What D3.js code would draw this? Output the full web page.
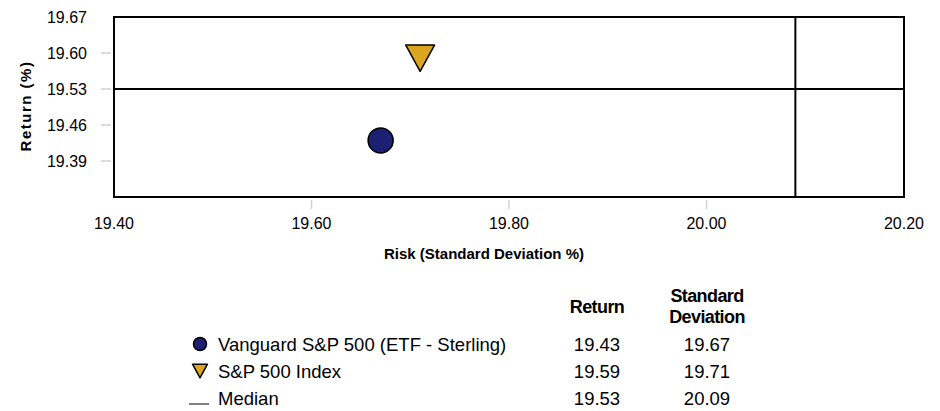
<!DOCTYPE html>
<html>
<head>
<meta charset="utf-8">
<script src="https://cdn.jsdelivr.net/npm/d3@7"></script>
<style>
  body { margin: 0; background: #fff; }
  text { font-family: "Liberation Sans", Arial, sans-serif; fill: #000; }
  .tick-label { font-size: 16px; }
  .axis-title { font-size: 15px; font-weight: bold; }
  .legend-text { font-size: 18.5px; }
  .head { font-size: 18px; font-weight: bold; letter-spacing: -0.6px; }
</style>
</head>
<body>
<div id="chart"></div>
<script>
// Chart data
const seriesNames = ["Vanguard S&P 500 (ETF - Sterling)", "S&P 500 Index"];
const seriesReturn = [19.43, 19.59];
const seriesRisk = [19.67, 19.71];
const seriesColors = ["#1d1f73", "#dba520"];
const seriesShapes = ["circle", "triangle"];

const medianReturn = 19.53;
const medianRisk = 20.09;

const xTicks = [19.40, 19.60, 19.80, 20.00, 20.20];
const yTicks = [19.39, 19.46, 19.53, 19.60, 19.67];

const width = 940;
const height = 411;

// plot box
const plotL = 114, plotR = 904, plotT = 17, plotB = 197;

const x = d3.scaleLinear().domain([19.40, 20.20]).range([plotL, plotR]);
const y = d3.scaleLinear().domain([19.32, 19.67]).range([plotB, plotT]);

const svg = d3.select("#chart").append("svg")
  .attr("width", width)
  .attr("height", height);

// tick marks (gray) + labels
svg.append("g").selectAll("line")
  .data(yTicks.filter(d => d < 19.67))
  .join("line")
  .attr("x1", plotL - 13).attr("x2", plotL - 3)
  .attr("y1", d => y(d)).attr("y2", d => y(d))
  .attr("stroke", "#d0d0d0").attr("stroke-width", 1.5);

svg.append("g").selectAll("text")
  .data(yTicks)
  .join("text")
  .attr("class", "tick-label")
  .attr("x", plotL - 27)
  .attr("y", d => y(d))
  .attr("dy", "0.36em")
  .attr("text-anchor", "end")
  .text(d => d.toFixed(2));

svg.append("g").selectAll("line")
  .data(xTicks.filter(d => d > 19.40 && d < 20.20))
  .join("line")
  .attr("x1", d => x(d)).attr("x2", d => x(d))
  .attr("y1", plotB + 3).attr("y2", plotB + 12)
  .attr("stroke", "#d0d0d0").attr("stroke-width", 1.5);

svg.append("g").selectAll("text")
  .data(xTicks)
  .join("text")
  .attr("class", "tick-label")
  .attr("x", d => x(d))
  .attr("y", 229)
  .attr("text-anchor", "middle")
  .text(d => d.toFixed(2));

// plot frame
svg.append("rect")
  .attr("x", plotL).attr("y", plotT)
  .attr("width", plotR - plotL).attr("height", plotB - plotT)
  .attr("fill", "none").attr("stroke", "#000").attr("stroke-width", 2);

// median lines
svg.append("line")
  .attr("x1", plotL).attr("x2", plotR)
  .attr("y1", y(medianReturn)).attr("y2", y(medianReturn))
  .attr("stroke", "#000").attr("stroke-width", 2);
svg.append("line")
  .attr("x1", x(medianRisk)).attr("x2", x(medianRisk))
  .attr("y1", plotT).attr("y2", plotB)
  .attr("stroke", "#000").attr("stroke-width", 2);

// markers
function drawMarker(g, shape, cx, cy, size, color) {
  if (shape === "circle") {
    g.append("circle")
      .attr("cx", cx).attr("cy", cy).attr("r", size)
      .attr("fill", color).attr("stroke", "#000").attr("stroke-width", 1.5);
  } else {
    const w = size * 1.15, h = size * 2.1;
    g.append("path")
      .attr("d", `M${cx - w},${cy - h / 2}L${cx + w},${cy - h / 2}L${cx},${cy + h / 2}Z`)
      .attr("fill", color).attr("stroke", "#000").attr("stroke-width", 1.5)
      .attr("stroke-linejoin", "round");
  }
}

const marks = svg.append("g");
seriesNames.forEach((n, i) => {
  drawMarker(marks, seriesShapes[i], x(seriesRisk[i]), y(seriesReturn[i]), 12.5, seriesColors[i]);
});

// axis titles
svg.append("text")
  .attr("class", "axis-title")
  .attr("transform", "translate(31,106) rotate(-90)")
  .attr("text-anchor", "middle")
  .style("letter-spacing", "1.5px")
  .text("Return (%)");

svg.append("text")
  .attr("class", "axis-title")
  .attr("x", 484).attr("y", 259)
  .attr("text-anchor", "middle")
  .text("Risk (Standard Deviation %)");

// legend table
const colRet = 597, colSd = 707;
svg.append("text").attr("class", "head")
  .attr("x", colRet).attr("y", 313).attr("text-anchor", "middle").text("Return");
svg.append("text").attr("class", "head")
  .attr("x", colSd).attr("y", 302).attr("text-anchor", "middle").text("Standard");
svg.append("text").attr("class", "head")
  .attr("x", colSd).attr("y", 323).attr("text-anchor", "middle").text("Deviation");

const rows = [
  { name: seriesNames[0], shape: seriesShapes[0], color: seriesColors[0], ret: seriesReturn[0], sd: seriesRisk[0] },
  { name: seriesNames[1], shape: seriesShapes[1], color: seriesColors[1], ret: seriesReturn[1], sd: seriesRisk[1] },
  { name: "Median", shape: "line", color: "#000", ret: medianReturn, sd: medianRisk }
];
const rowY = [344, 371, 398];

const legend = svg.append("g");
rows.forEach((r, i) => {
  const cy = rowY[i];
  if (r.shape === "line") {
    legend.append("line")
      .attr("x1", 189).attr("x2", 209)
      .attr("y1", cy + 6).attr("y2", cy + 6)
      .attr("stroke", "#000").attr("stroke-width", 1);
  } else {
    drawMarker(legend, r.shape, 200, cy, 6.5, r.color);
  }
  legend.append("text").attr("class", "legend-text")
    .attr("x", 218).attr("y", cy).attr("dy", "0.36em").text(r.name);
  legend.append("text").attr("class", "legend-text")
    .attr("x", colRet).attr("y", cy).attr("dy", "0.36em")
    .attr("text-anchor", "middle").text(r.ret.toFixed(2));
  legend.append("text").attr("class", "legend-text")
    .attr("x", colSd).attr("y", cy).attr("dy", "0.36em")
    .attr("text-anchor", "middle").text(r.sd.toFixed(2));
});
</script>
</body>
</html>
